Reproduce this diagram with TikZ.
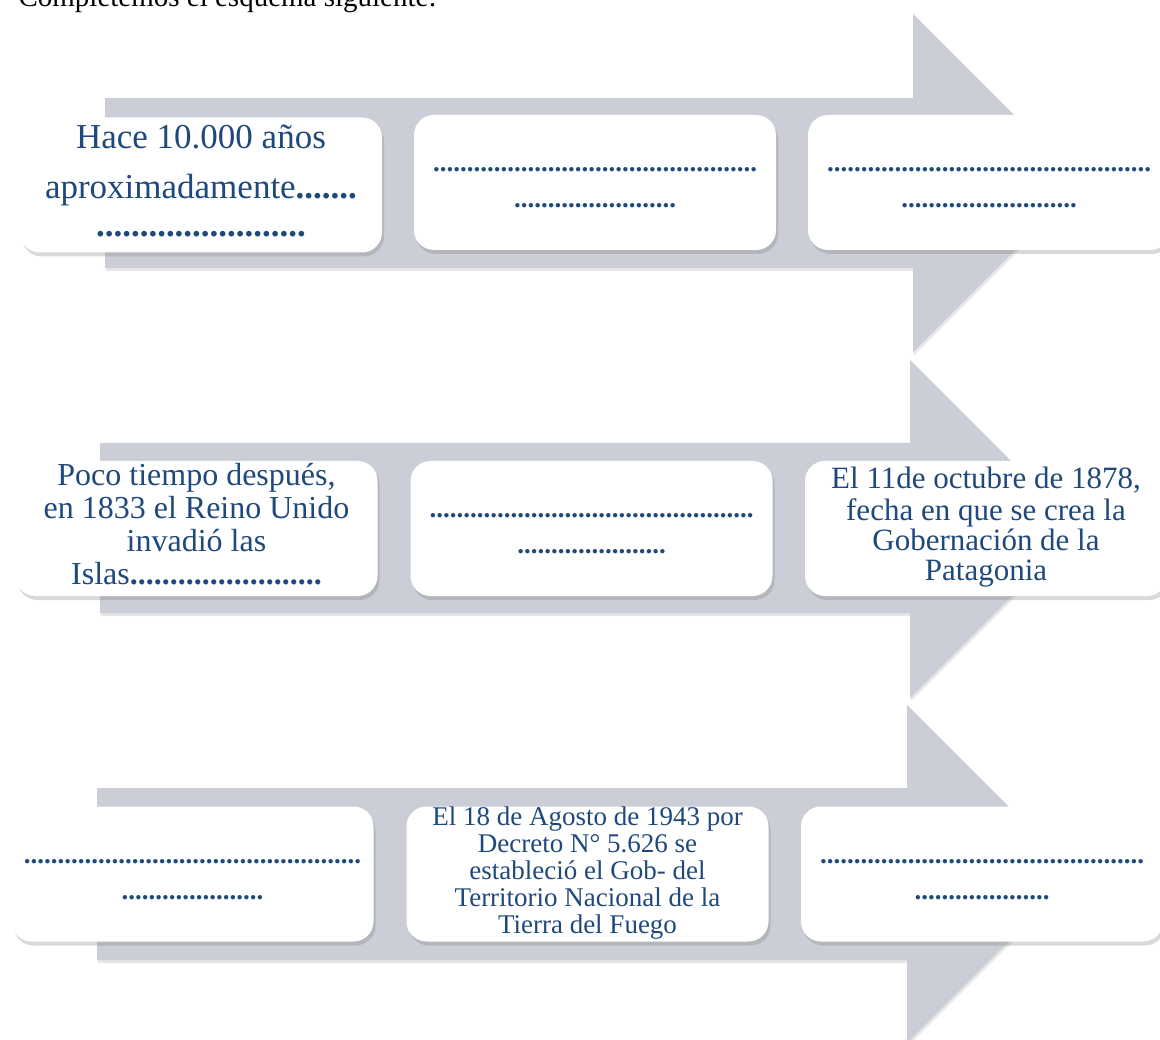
\documentclass[tikz,border=0pt]{standalone}
\usepackage{fontspec}
\setmainfont{Liberation Serif}
\usetikzlibrary{shadows}
\definecolor{gris}{RGB}{203,206,215}
\definecolor{azul}{RGB}{31,73,125}

\begin{document}
\begin{tikzpicture}[x=1pt,y=-1pt,
  flecha/.style={fill=gris, drop shadow={shadow xshift=1pt, shadow yshift=-3pt, opacity=0.2}},
  caja/.style={fill=white, rounded corners=20pt, minimum width=362pt, minimum height=135pt, inner sep=0pt, align=center, text=azul,
    drop shadow={shadow xshift=2pt, shadow yshift=-4pt, opacity=0.3}},
  puntos/.style={font=\fontsize{27}{36}\selectfont\bfseries}]
\useasboundingbox (0,0) rectangle (1160,1040);
\node[anchor=base west, font=\fontsize{29}{34}\selectfont] (t) at (15,7) {Completemos el esquema siguiente:};
% flechas
\fill[flecha] (105,98) -- (913,98) -- (913,14) -- (1082,183) -- (913,352) -- (913,268) -- (105,268) -- cycle;
\fill[flecha] (100,443) -- (910,443) -- (910,360) -- (1079,529) -- (910,698) -- (910,613) -- (100,613) -- cycle;
\fill[flecha] (97,788) -- (907,788) -- (907,705) -- (1076,874) -- (907,1043) -- (907,960) -- (97,960) -- cycle;
% fila 1
\node[caja, font=\fontsize{35}{38}\selectfont] (1) at (201,185) {\strut Hace 10.000 años\\[12pt] aproximadamente{\bfseries.......}\\ {\bfseries........................}\strut};
\node[caja, puntos] (2) at (595,182.5) {\strut................................................\\ ........................\strut};
\node[caja, puntos] (3) at (989,182.5) {\strut................................................\\ ..........................\strut};
% fila 2
\node[caja, font=\fontsize{32}{33}\selectfont] (4) at (196.5,528.5) {\strut Poco tiempo después,\\ en 1833 el Reino Unido\\ invadió las\\ Islas{\bfseries........................}\strut};
\node[caja, puntos] (5) at (591.5,528.5) {\strut................................................\\ ......................\strut};
\node[caja, font=\fontsize{31}{30}\selectfont] (6) at (986,528.5) {\strut El 11de octubre de 1878,\\ fecha en que se crea la\\ Gobernación  de la\\ Patagonia\strut};
% fila 3
\node[caja, puntos] (7) at (192.5,874) {\strut..................................................\\ .....................\strut};
\node[caja, font=\fontsize{27}{27}\selectfont] (8) at (587.5,874) {\strut El 18 de Agosto de 1943 por\\ Decreto N° 5.626 se\\ estableció el Gob- del\\ Territorio Nacional de la\\ Tierra del Fuego\strut};
\node[caja, puntos] (9) at (982,874) {\strut................................................\\ ....................\strut};
\end{tikzpicture}
\end{document}
